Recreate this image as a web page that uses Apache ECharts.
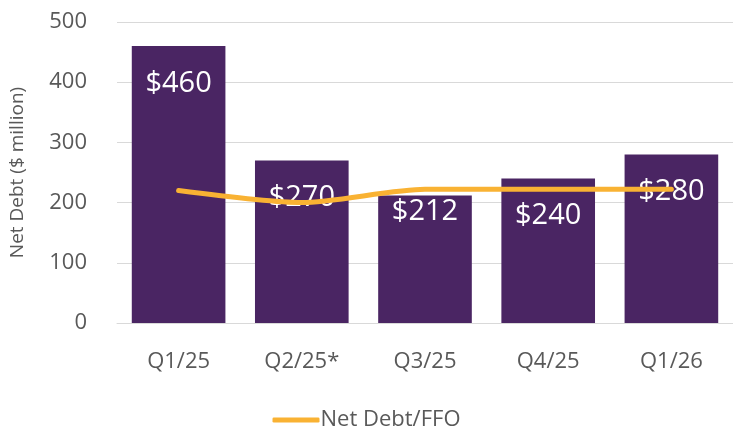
<!DOCTYPE html>
<html>
<head>
<meta charset="utf-8">
<script src="https://cdn.jsdelivr.net/npm/echarts@6/dist/echarts.min.js"></script>
<style>
	html, body { margin: 0; padding: 0; background: #fff; }
	#chart { width: 733px; height: 432px; }
</style>
</head>
<body>
<div id="chart"></div>
<script>
const quarters = ["Q1/25", "Q2/25*", "Q3/25", "Q4/25", "Q1/26"];
const netDebt = [460, 270, 212, 240, 280];
const netDebtFfo = [220, 200, 222, 222, 222];
const yTicks = [0, 100, 200, 300, 400, 500];

const font = "'Open Sans', 'Noto Sans', sans-serif";
const textColor = "#595959";

let myChart = echarts.init(document.getElementById("chart"));
let option = {
	animation: false,
	grid: {
		left: 112,
		right: 0,
		top: 22,
		bottom: 109
	},
	legend: {
		data: ["Net Debt/FFO"],
		left: "center",
		top: 404,
		icon: "roundRect",
		itemWidth: 47,
		itemHeight: 5,
		itemGap: 4,
		textStyle: { color: textColor, fontSize: 22, fontFamily: font, padding: [0, 0, 0, -4] }
	},
	xAxis: {
		type: "category",
		data: quarters,
		axisLine: { lineStyle: { color: "#d9d9d9", width: 1 } },
		axisTick: { show: false },
		axisLabel: { color: textColor, fontSize: 22, fontFamily: font, margin: 28 }
	},
	yAxis: {
		type: "value",
		min: yTicks[0],
		max: yTicks[yTicks.length - 1],
		interval: 100,
		name: "Net Debt ($ million)",
		nameLocation: "middle",
		nameGap: 90,
		nameTextStyle: { color: textColor, fontSize: 19, fontFamily: font },
		axisLine: { show: false },
		axisTick: { show: false },
		axisLabel: { color: textColor, fontSize: 22, fontFamily: font, margin: 30 },
		splitLine: { lineStyle: { color: "#d9d9d9", width: 1 } }
	},
	series: [
		{
			name: "Net Debt",
			type: "bar",
			barWidth: "76%",
			itemStyle: { color: "#4a2563" },
			label: {
				show: true,
				position: "insideTop",
				distance: 23,
				color: "#fff",
				fontSize: 29,
				fontFamily: font,
				formatter: p => "$" + p.value
			},
			data: netDebt.map((v, i) => i === 2 ? { value: v, label: { distance: 2 } } : v)
		},
		{
			name: "Net Debt/FFO",
			type: "line",
			smooth: 0.25,
			symbol: "none",
			lineStyle: { color: "#f9b233", width: 5, cap: "round" },
			itemStyle: { color: "#f9b233" },
			z: 3,
			data: netDebtFfo
		}
	]
};
myChart.setOption(option);
</script>
</body>
</html>
